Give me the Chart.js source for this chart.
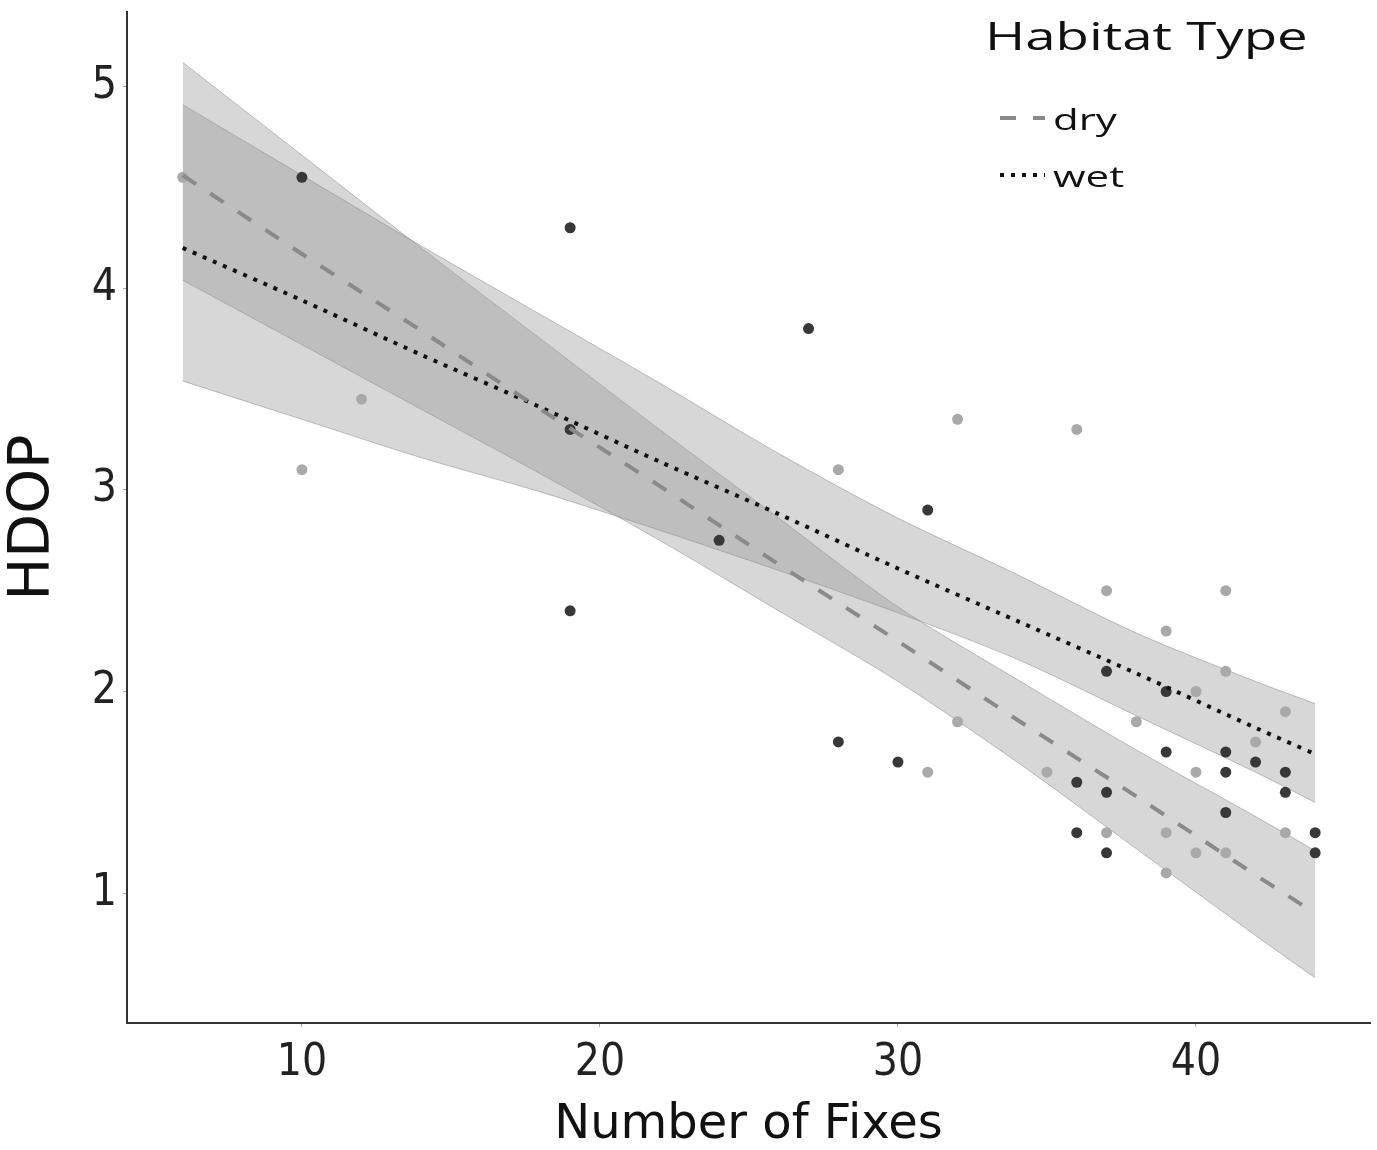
<!DOCTYPE html>
<html>
<head>
<meta charset="utf-8">
<script src="https://cdn.jsdelivr.net/npm/chart.js@4.4.1/dist/chart.umd.min.js"></script>
<style>
  html, body { margin: 0; padding: 0; background: #fff; }
</style>
</head>
<body>
<canvas id="graficoHdop" width="1377" height="1150"></canvas>
<script>
const dryX = [6, 10, 12, 28, 31, 32, 32, 35, 36, 37, 37, 38, 39, 39, 39, 40, 40, 40, 41, 41, 41, 42, 43, 43];
const dryY = [4.55, 3.1, 3.45, 3.1, 1.6, 3.35, 1.85, 1.6, 3.3, 2.5, 1.3, 1.85, 2.3, 1.3, 1.1, 2.0, 1.6, 1.2, 2.5, 2.1, 1.2, 1.75, 1.9, 1.3];
const wetX = [10, 19, 19, 19, 24, 27, 28, 30, 31, 36, 36, 37, 37, 37, 39, 39, 41, 41, 41, 42, 43, 43, 44, 44];
const wetY = [4.55, 4.3, 3.3, 2.4, 2.75, 3.8, 1.75, 1.65, 2.9, 1.55, 1.3, 2.1, 1.5, 1.2, 2.0, 1.7, 1.7, 1.6, 1.4, 1.65, 1.6, 1.5, 1.3, 1.2];

// Retas ajustadas e intervalos de confiança
const fitX = [6, 10, 14, 18, 22, 26, 30, 34, 38, 42, 44];
const dryFit = [4.56, 4.17, 3.79, 3.40, 3.02, 2.63, 2.25, 1.86, 1.48, 1.09, 0.90];
const dryUpper = [5.12, 4.66, 4.20, 3.75, 3.30, 2.86, 2.42, 2.06, 1.71, 1.38, 1.21];
const dryLower = [4.04, 3.72, 3.40, 3.08, 2.75, 2.40, 2.05, 1.65, 1.22, 0.79, 0.58];
const wetFit = [4.20, 3.94, 3.67, 3.41, 3.14, 2.88, 2.61, 2.35, 2.09, 1.82, 1.69];
const wetUpper = [4.91, 4.56, 4.21, 3.87, 3.53, 3.18, 2.86, 2.58, 2.29, 2.05, 1.94];
const wetLower = [3.54, 3.35, 3.16, 2.99, 2.80, 2.60, 2.39, 2.16, 1.88, 1.60, 1.45];

const xTicks = [10, 20, 30, 40];
const yTicks = [1, 2, 3, 4, 5];
const legendTitle = 'Habitat Type';

function pares(xs, ys) {
    return xs.map((x, i) => ({ x: x, y: ys[i] }));
}

const corFaixa = 'rgba(150, 150, 150, 0.38)';
const corBordaFaixa = 'rgba(140, 140, 140, 0.55)';

// Legenda desenhada à mão (estilo ggplot)
const legendaHabitat = {
    id: 'legendaHabitat',
    afterDraw(chart) {
        const ctx = chart.ctx;
        ctx.save();
        ctx.fillStyle = '#111';
        ctx.textBaseline = 'alphabetic';
        ctx.save();
        ctx.translate(985, 50);
        ctx.scale(1.4, 1);
        ctx.font = '39px "Open Sans"';
        ctx.fillText(legendTitle, 0, 0);
        ctx.restore();

        const itens = chart.data.datasets.filter(d => d.legenda);
        itens.forEach((ds, i) => {
            const y = 118 + i * 57;
            ctx.beginPath();
            ctx.setLineDash(ds.borderDash);
            ctx.lineWidth = ds.borderWidth;
            ctx.strokeStyle = ds.borderColor;
            ctx.moveTo(1000, y);
            ctx.lineTo(1045, y);
            ctx.stroke();
            ctx.setLineDash([]);
            ctx.save();
            ctx.translate(1053, y + 12);
            ctx.scale(1.4, 1);
            ctx.font = '30px "Open Sans"';
            ctx.fillText(ds.label, 0, 0);
            ctx.restore();
        });
        ctx.restore();
    }
};

const ctx = document.getElementById('graficoHdop').getContext('2d');
window.graficoHdop = new Chart(ctx, {
    type: 'scatter',
    data: {
        datasets: [
            { type: 'line', label: 'dry upper', data: pares(fitX, dryUpper), fill: 1, backgroundColor: corFaixa,
              borderColor: corBordaFaixa, borderWidth: 1, pointRadius: 0, tension: 0.3, order: 3 },
            { type: 'line', label: 'dry lower', data: pares(fitX, dryLower), fill: false,
              borderColor: corBordaFaixa, borderWidth: 1, pointRadius: 0, tension: 0.3, order: 3 },
            { type: 'line', label: 'wet upper', data: pares(fitX, wetUpper), fill: 3, backgroundColor: corFaixa,
              borderColor: corBordaFaixa, borderWidth: 1, pointRadius: 0, tension: 0.3, order: 2 },
            { type: 'line', label: 'wet lower', data: pares(fitX, wetLower), fill: false,
              borderColor: corBordaFaixa, borderWidth: 1, pointRadius: 0, tension: 0.3, order: 2 },
            { label: 'dry points', data: pares(dryX, dryY), backgroundColor: '#a9a9a9',
              borderWidth: 0, pointRadius: 5.5, order: 1 },
            { label: 'wet points', data: pares(wetX, wetY), backgroundColor: '#383838',
              borderWidth: 0, pointRadius: 5.5, order: 1 },
            { type: 'line', label: 'dry', legenda: true, data: pares(fitX, dryFit), fill: false,
              borderColor: '#8a8a8a', borderWidth: 4, borderDash: [16, 17], pointRadius: 0, order: 0 },
            { type: 'line', label: 'wet', legenda: true, data: pares(fitX, wetFit), fill: false,
              borderColor: '#111111', borderWidth: 4, borderDash: [4, 7], pointRadius: 0, tension: 0.3, order: 0 }
        ]
    },
    options: {
        responsive: false,
        animation: false,
        layout: { padding: { top: 12, right: 7, left: 0, bottom: 0 } },
        plugins: {
            legend: { display: false },
            tooltip: { enabled: false }
        },
        scales: {
            x: {
                type: 'linear',
                min: 4.13,
                max: 45.84,
                afterBuildTicks: (scale) => { scale.ticks = xTicks.map(v => ({ value: v })); },
                afterFit: (scale) => {
                    scale.height = 127;
                    scale.paddingLeft = 0;
                    scale.paddingRight = 0;
                },
                border: { display: true, color: '#333', width: 2 },
                grid: { display: true, drawOnChartArea: false, drawTicks: true, tickLength: 4, color: '#aaa' },
                ticks: { padding: 10, color: '#222', font: { family: "'DejaVu Sans Condensed', 'DejaVu Sans'", size: 44 } },
                title: { display: true, text: 'Number of Fixes', color: '#111',
                         font: { family: 'DejaVu Sans', size: 48, lineHeight: 1 }, padding: { top: 0, bottom: 0 } }
            },
            y: {
                type: 'linear',
                min: 0.356,
                max: 5.37,
                afterBuildTicks: (scale) => { scale.ticks = yTicks.map(v => ({ value: v })); },
                afterFit: (scale) => {
                    scale.width = 127;
                    scale.paddingTop = 0;
                    scale.paddingBottom = 0;
                },
                border: { display: true, color: '#333', width: 2 },
                grid: { display: true, drawOnChartArea: false, drawTicks: true, tickLength: 4, color: '#aaa' },
                ticks: { padding: 6, color: '#222', font: { family: "'DejaVu Sans Condensed', 'DejaVu Sans'", size: 44 } },
                title: { display: true, text: 'HDOP', color: '#111',
                         font: { family: 'DejaVu Sans', size: 57, lineHeight: 1 }, padding: { top: 6, bottom: 0 } }
            }
        }
    },
    plugins: [legendaHabitat]
});
</script>
</body>
</html>
